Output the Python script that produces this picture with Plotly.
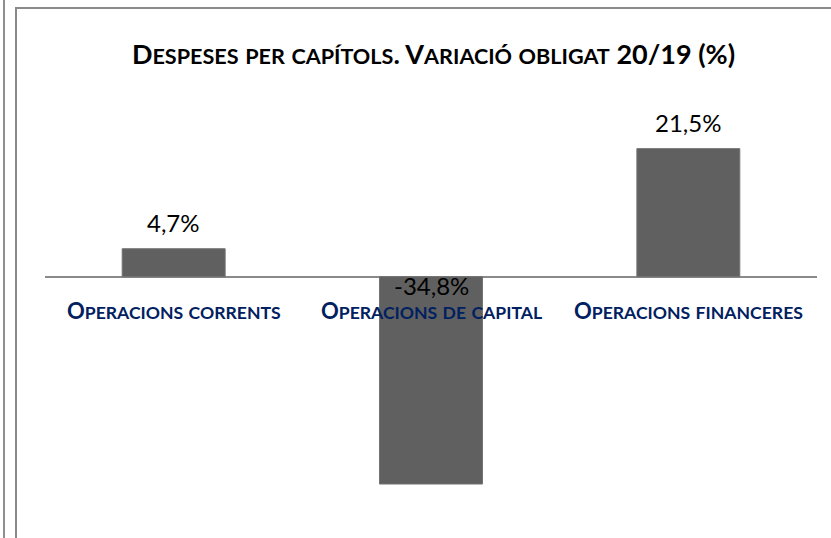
import plotly.graph_objects as go

categories = ["Operacions corrents", "Operacions de capital", "Operacions financeres"]
values = [4.7, -34.8, 21.5]
title_text = "Despeses per capítols. Variació obligat 20/19 (%)"

labels = [f"{v:.1f}".replace(".", ",") + "%" for v in values]

FONT = "Lato, Carlito, 'Open Sans', sans-serif"


def small_caps(text, small_size):
    """Emulate small caps: lowercase runs are upper-cased at a smaller size."""
    out, run = [], ""
    for ch in text:
        if ch.islower():
            run += ch.upper()
        else:
            if run:
                out.append(f'<span style="font-size:{small_size}px">{run}</span>')
                run = ""
            out.append(ch)
    if run:
        out.append(f'<span style="font-size:{small_size}px">{run}</span>')
    return "".join(out)


fig = go.Figure()
fig.add_trace(go.Bar(
    x=categories, y=values, width=0.4,
    marker=dict(color="#606060", line=dict(color="#727272", width=1)),
    hoverinfo="skip",
))

annotations = []
for c, v, t in zip(categories, values, labels):
    if v >= 0:
        annotations.append(dict(x=c, y=v, text=t, showarrow=False, xref="x", yref="y",
                                yanchor="middle", yshift=26,
                                font=dict(family=FONT, size=24, color="#000000")))
    else:
        annotations.append(dict(x=c, y=0, text=t, showarrow=False, xref="x", yref="y",
                                yanchor="middle", yshift=-9,
                                font=dict(family=FONT, size=24, color="#000000")))
for c in categories:
    annotations.append(dict(x=c, y=0, text="<b>" + small_caps(c, 17.6) + "</b>", showarrow=False,
                            xref="x", yref="y", yanchor="middle", yshift=-34,
                            font=dict(family=FONT, size=22, color="#002060")))

fig.update_layout(
    width=831, height=538,
    margin=dict(l=45, r=14, t=98, b=23),
    paper_bgcolor="white", plot_bgcolor="white",
    showlegend=False,
    title=dict(text="<b>" + small_caps(title_text, 21.6) + "</b>", x=(433.5 / 831), xref="container",
               xanchor="center", y=1 - 55 / 538, yref="container", yanchor="middle",
               font=dict(family=FONT, size=27, color="#000000")),
    xaxis=dict(showticklabels=False, showgrid=False, zeroline=False, showline=False, ticks=""),
    yaxis=dict(range=[-40, 30], showticklabels=False, showgrid=False, zeroline=True,
               zerolinecolor="#8a8a8a", zerolinewidth=2, showline=False, ticks=""),
    annotations=annotations,
)


# frame lines (outer page border and chart area border), in pixel terms
def px_x(p):
    return (p - 45) / 772


def px_y(p):
    return 1 - (p - 98) / 417


fig.add_shape(type="line", xref="paper", yref="paper", x0=px_x(4), x1=px_x(4), y0=px_y(0), y1=px_y(540),
              line=dict(color="#8f8f8f", width=2), layer="above")
fig.add_shape(type="rect", xref="paper", yref="paper", x0=px_x(16), x1=px_x(850), y0=px_y(8), y1=px_y(560),
              line=dict(color="#8a8a8a", width=2), fillcolor="rgba(0,0,0,0)", layer="above")

fig.write_html("out.html", config={"displayModeBar": False},
               post_script="document.body.style.margin='0';document.body.style.overflow='hidden';")
